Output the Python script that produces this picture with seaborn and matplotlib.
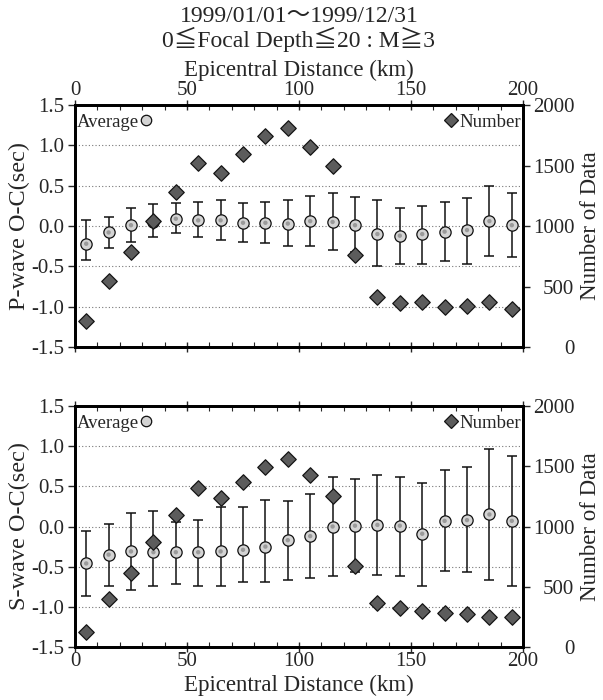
import numpy as np
import pandas as pd
import matplotlib
matplotlib.use("Agg")
import matplotlib.pyplot as plt
import seaborn as sns
from matplotlib.ticker import MultipleLocator, FormatStrFormatter
from matplotlib.lines import Line2D

# ---------------- data ----------------
distance = [5, 15, 25, 35, 45, 55, 65, 75, 85, 95,
            105, 115, 125, 135, 145, 155, 165, 175, 185, 195]

p_avg = [-0.22, -0.08, 0.01, 0.05, 0.09, 0.07, 0.07, 0.04, 0.04, 0.03,
         0.06, 0.05, 0.01, -0.10, -0.12, -0.10, -0.07, -0.05, 0.06, 0.01]
p_hi = [0.07, 0.11, 0.22, 0.27, 0.28, 0.30, 0.32, 0.28, 0.30, 0.32,
        0.37, 0.41, 0.36, 0.32, 0.22, 0.25, 0.30, 0.35, 0.50, 0.41]
p_lo = [-0.42, -0.27, -0.20, -0.14, -0.09, -0.14, -0.17, -0.20, -0.21, -0.25,
        -0.25, -0.30, -0.32, -0.50, -0.47, -0.47, -0.43, -0.47, -0.37, -0.38]
p_num = [217, 542, 781, 1039, 1281, 1517, 1436, 1592, 1744, 1806,
         1653, 1492, 764, 417, 361, 375, 328, 339, 369, 317]

s_avg = [-0.46, -0.35, -0.31, -0.32, -0.32, -0.32, -0.31, -0.29, -0.25, -0.17,
         -0.12, 0.00, 0.01, 0.02, 0.01, -0.09, 0.07, 0.08, 0.15, 0.07]
s_hi = [-0.06, 0.03, 0.17, 0.19, 0.05, 0.08, 0.24, 0.24, 0.33, 0.32,
        0.40, 0.61, 0.59, 0.64, 0.62, 0.54, 0.70, 0.74, 0.97, 0.88]
s_lo = [-0.86, -0.74, -0.79, -0.74, -0.71, -0.74, -0.74, -0.69, -0.69, -0.67,
        -0.64, -0.62, -0.57, -0.60, -0.61, -0.74, -0.55, -0.57, -0.66, -0.74]
s_num = [124, 399, 612, 873, 1094, 1317, 1234, 1372, 1496, 1562,
         1430, 1256, 675, 364, 325, 297, 284, 270, 253, 245]

title_lines = ["1999/01/01\u301c1999/12/31",
               "0\u2266Focal Depth\u226620 : M\u22673"]
xlabel = "Epicentral Distance (km)"
ylabels = ["P-wave O-C(sec)", "S-wave O-C(sec)"]
ylabel_right = "Number of Data"

# ---------------- style ----------------
sns.set_theme(style="ticks")
plt.rcParams["font.family"] = ["Liberation Serif", "Noto Sans CJK JP", "DejaVu Sans"]
plt.rcParams["axes.unicode_minus"] = False

fig = plt.figure(figsize=(6.03, 7.00), dpi=100)
W, H = 603, 700
L, R = 75, 523
AW = R - L
panels = [(105, 347), (406, 647)]

circ_face = "#d4d4d4"
diam_face = "#5c5c5c"
FS_TICK = 15
FS_XLAB = 16.5
FS_YLAB = 17.5
FS_RLAB = 16.5
FS_LEG = 13.5


def draw_panel(top_px, bot_px, avg, hi, lo, num, ylab, top_labels):
    AH = bot_px - top_px
    ax = fig.add_axes([L / W, 1 - bot_px / H, AW / W, AH / H])
    df = pd.DataFrame({"d": distance, "avg": avg, "hi": hi, "lo": lo, "num": num})
    yerr = np.vstack([df["avg"] - df["lo"], df["hi"] - df["avg"]])
    ax.errorbar(df["d"], df["avg"], yerr=yerr, fmt="none", ecolor="#111111",
                elinewidth=1.1, capsize=3.6, capthick=1.1, zorder=2)
    sns.scatterplot(data=df, x="d", y="avg", ax=ax, marker="o", s=66,
                    color=circ_face, edgecolor="#111111", linewidth=0.9, zorder=3)
    sns.scatterplot(data=df, x="d", y="avg", ax=ax, marker="o", s=10,
                    color="#9a9a9a", edgecolor="none", linewidth=0, zorder=4)
    ax.set_xlim(0, 200)
    ax.set_ylim(-1.5, 1.5)
    ax.yaxis.set_major_locator(MultipleLocator(0.5))
    ax.yaxis.set_major_formatter(FormatStrFormatter("%.1f"))
    ax.xaxis.set_major_locator(MultipleLocator(50))
    ax.xaxis.set_minor_locator(MultipleLocator(10))
    ax.grid(axis="y", linestyle=(0, (1, 2)), color="#777777", linewidth=0.8)
    ax.set_axisbelow(True)
    ax.tick_params(axis="x", which="major", direction="inout", length=7, width=1.0,
                   top=True, bottom=True, labeltop=top_labels,
                   labelbottom=not top_labels, labelsize=FS_TICK, pad=0)
    ax.tick_params(axis="x", which="minor", direction="in", length=3.5, width=0.8,
                   top=True, bottom=True)
    ax.tick_params(axis="y", direction="out", length=5, width=1.0,
                   labelsize=FS_TICK, pad=3)
    ax.set_ylabel(ylab, fontsize=FS_YLAB)
    ax.yaxis.set_label_coords((30 - L) / AW, 0.5)
    if top_labels:
        ax.xaxis.set_label_position("top")
        ax.set_xlabel(xlabel, fontsize=FS_XLAB, labelpad=4)
    else:
        ax.set_xlabel(xlabel, fontsize=FS_XLAB, labelpad=3)
    for sp in ax.spines.values():
        sp.set_linewidth(2.0)
        sp.set_color("black")

    ax2 = ax.twinx()
    sns.scatterplot(data=df, x="d", y="num", ax=ax2, marker="D", s=62,
                    color=diam_face, edgecolor="#151515", linewidth=0.9, zorder=5)
    ax2.set_ylim(0, 2000)
    ax2.yaxis.set_major_locator(MultipleLocator(500))
    ax2.tick_params(axis="y", direction="out", length=5, width=1.0,
                    labelsize=FS_TICK, pad=32)
    for lab in ax2.get_yticklabels():
        lab.set_horizontalalignment("right")
    ax2.set_ylabel(ylabel_right, fontsize=FS_RLAB)
    ax2.yaxis.set_label_coords((580 - L) / AW, 0.5)
    ax2.set_xlabel("")
    for sp in ax2.spines.values():
        sp.set_linewidth(2.0)
        sp.set_color("black")

    h_avg = Line2D([], [], marker="o", ls="", mfc=circ_face, mec="#111111",
                   mew=0.9, ms=7.5)
    h_num = Line2D([], [], marker="D", ls="", mfc=diam_face, mec="#151515",
                   mew=0.9, ms=6.8)
    ytop = 1 - 6 / AH
    ax2.add_artist(ax2.legend([h_avg], ["Average"], loc="upper left", frameon=False,
                              bbox_to_anchor=(-1 / AW, ytop), borderaxespad=0,
                              markerfirst=False, handlelength=0.7, handletextpad=0.0,
                              borderpad=0.15, fontsize=FS_LEG))
    ax2.legend([h_num], ["Number"], loc="upper right", frameon=False,
               bbox_to_anchor=(1 + 1 / AW, ytop), borderaxespad=0,
               markerfirst=True, handlelength=0.7, handletextpad=0.1,
               borderpad=0.15, fontsize=FS_LEG)
    return ax, ax2


draw_panel(*panels[0], p_avg, p_hi, p_lo, p_num, ylabels[0], True)
draw_panel(*panels[1], s_avg, s_hi, s_lo, s_num, ylabels[1], False)

cx = (L + R) / 2 / W
fig.text(cx, 1 - 17 / H, title_lines[0], ha="center", va="center", fontsize=17)
fig.text(cx, 1 - 39 / H, title_lines[1], ha="center", va="center", fontsize=17)

fig.savefig("out.png", dpi=100)
